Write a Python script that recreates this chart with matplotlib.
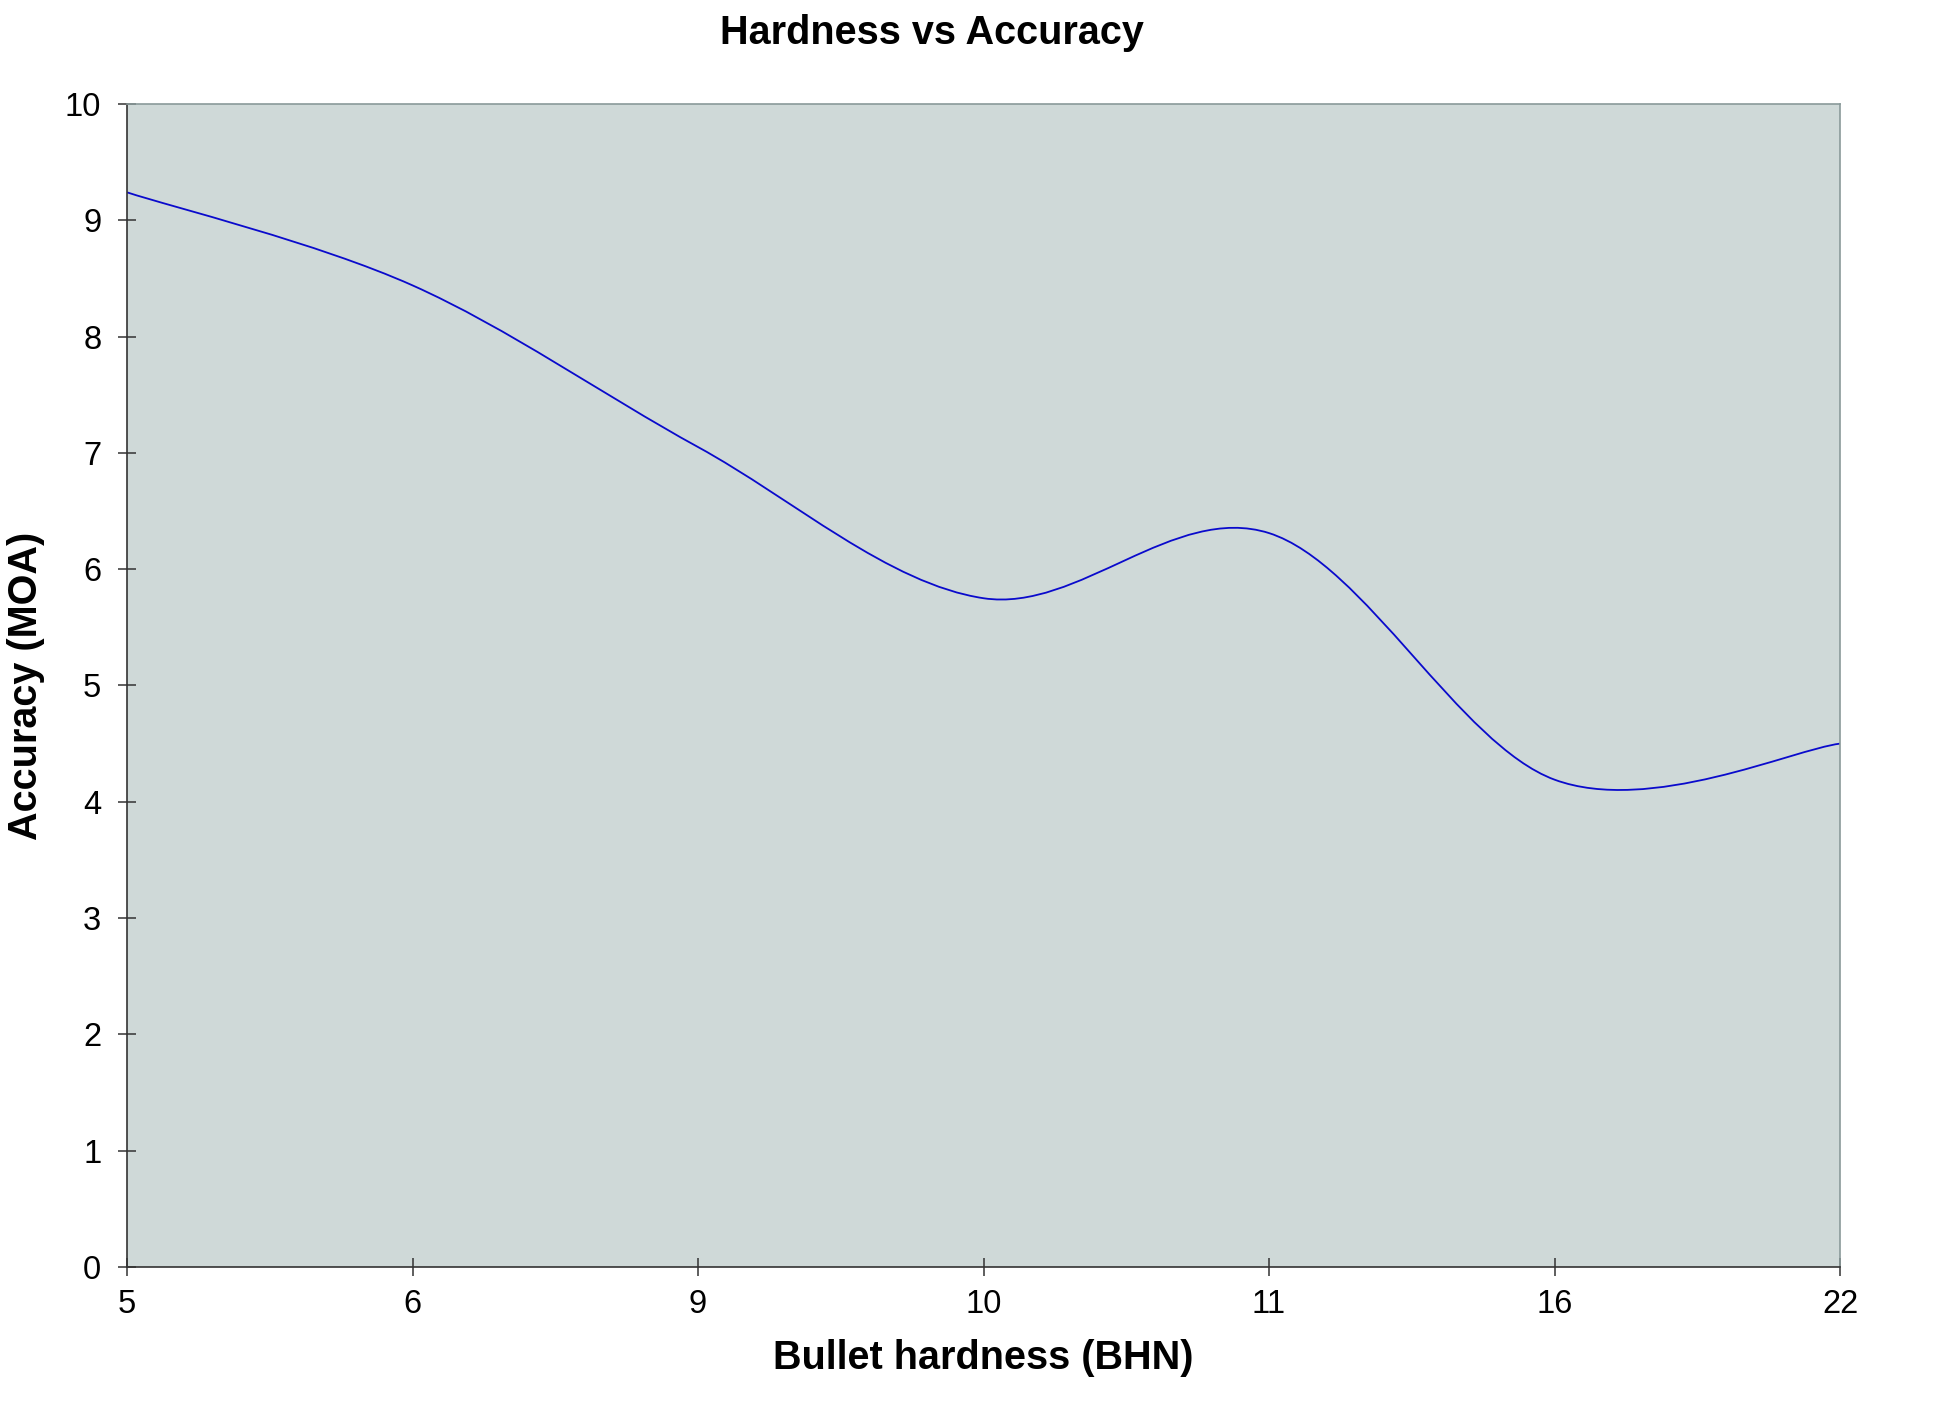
import matplotlib
matplotlib.use("Agg")
import matplotlib.pyplot as plt
from matplotlib.path import Path
from matplotlib.patches import PathPatch

plt.rcParams['font.family'] = ['Liberation Sans', 'DejaVu Sans']

# data (categorical x axis)
hardness = ['5', '6', '9', '10', '11', '16', '22']
accuracy = [9.24, 8.44, 7.05, 5.75, 6.31, 4.19, 4.50]
y_ticks = list(range(0, 11))


def smooth_path(xs, ys):
    # Excel-like smoothed line: cubic Bezier through each point,
    # control points from the neighbouring points (tension 1/6)
    n = len(xs)
    verts = [(xs[0], ys[0])]
    codes = [Path.MOVETO]
    for i in range(n - 1):
        x0, y0 = (xs[i - 1], ys[i - 1]) if i > 0 else (xs[i], ys[i])
        x1, y1 = xs[i], ys[i]
        x2, y2 = xs[i + 1], ys[i + 1]
        x3, y3 = (xs[i + 2], ys[i + 2]) if i + 2 < n else (x2, y2)
        c1 = (x1 + (x2 - x0) / 6.0, y1 + (y2 - y0) / 6.0)
        c2 = (x2 - (x3 - x1) / 6.0, y2 - (y3 - y1) / 6.0)
        verts += [c1, c2, (x2, y2)]
        codes += [Path.CURVE4, Path.CURVE4, Path.CURVE4]
    return Path(verts, codes)


fig = plt.figure(figsize=(19.48, 14.18), dpi=100)
ax = fig.add_axes([0.0652, 0.1065, 0.8794, 0.8202])
ax.set_facecolor('#cfd9d8')

positions = list(range(len(hardness)))
ax.add_patch(PathPatch(smooth_path(positions, accuracy), facecolor='none',
                       edgecolor='#0a0acc', linewidth=1.3))

ax.set_xlim(0, len(hardness) - 1)
ax.set_ylim(0, 10)
ax.set_xticks(positions)
ax.set_xticklabels(hardness)
ax.set_yticks(y_ticks)

ax.tick_params(axis='both', direction='inout', length=13, width=1.1,
               color='#333333', labelsize=23.5, labelcolor='black')
ax.tick_params(axis='x', pad=9)
ax.tick_params(axis='y', pad=12)

for side in ['left', 'bottom']:
    ax.spines[side].set_color('#333333')
    ax.spines[side].set_linewidth(1.2)
for side in ['top', 'right']:
    ax.spines[side].set_color('#8a9a9a')
    ax.spines[side].set_linewidth(1.2)

fig.text(0.4785, 0.9765, 'Hardness vs Accuracy', ha='center', va='center',
         fontsize=28.5, fontweight='bold')
ax.set_xlabel('Bullet hardness (BHN)', fontsize=28.5, fontweight='bold', labelpad=14)
ax.set_ylabel('Accuracy (MOA)', fontsize=28.5, fontweight='bold', labelpad=14)

fig.savefig('out.png', dpi=100, facecolor='white')
